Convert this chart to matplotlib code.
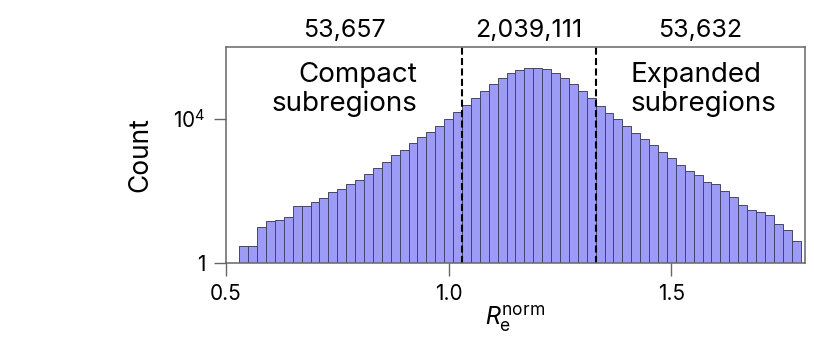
import numpy as np
import matplotlib
matplotlib.use('Agg')
import matplotlib.pyplot as plt
import matplotlib.transforms as mtransforms

plt.rcParams['font.family'] = ['Inter', 'DejaVu Sans']
plt.rcParams['mathtext.fontset'] = 'custom'
plt.rcParams['mathtext.rm'] = 'Inter'
plt.rcParams['mathtext.it'] = 'Roboto:italic'

# histogram of normalised effective radius, bins of 0.02 starting at 0.53
bin_start = 0.53
bin_width = 0.02
counts = [
    3, 3, 10, 15, 16, 19, 39, 39, 50, 62,
    93, 115, 155, 204, 295, 427, 640, 970, 1400, 2090,
    3160, 4400, 6460, 9900, 15500, 24000, 38900, 61700, 91200, 135000,
    186000, 229000, 263000, 263000, 245000, 186000, 141000, 91200, 61700, 38900,
    22900, 15100, 9800, 6460, 3980, 2820, 1860, 1200, 813, 525,
    363, 282, 174, 155, 102, 66, 42, 30, 26, 21,
    12, 8, 4,
]
cuts = [1.03, 1.33]
group_totals = ['53,657', '2,039,111', '53,632']
group_centers = [0.765, 1.18, 1.565]

left_edges = bin_start + bin_width * np.arange(len(counts))

fig = plt.figure(figsize=(8.14, 3.55), dpi=100)
ax = fig.add_axes([0.2776, 0.2592, 0.9889 - 0.2776, 0.8676 - 0.2592])

ax.bar(left_edges, counts, width=bin_width, align='edge',
       color='#9c9cf6', edgecolor='#45456a', linewidth=0.7)
ax.set_yscale('log')
ax.set_ylim(1, 1e6)
ax.set_xlim(0.5, 1.8)

for c in cuts:
    ax.axvline(c, color='black', lw=1.5, linestyle=(0, (3.4, 1.6)))

trans = mtransforms.blended_transform_factory(ax.transData, ax.transAxes)
for xc, txt in zip(group_centers, group_totals):
    ax.text(xc, 1.046, txt, transform=trans, ha='center', va='baseline', fontsize=18)

ax.text(0.93, 0.932, 'Compact\nsubregions', transform=trans, ha='right', va='top',
        fontsize=20, linespacing=1.15)
ax.text(1.408, 0.932, 'Expanded\nsubregions', transform=trans, ha='left', va='top',
        fontsize=20, linespacing=1.15)

ax.set_xticks([0.5, 1.0, 1.5])
ax.set_xticklabels(['0.5', '1.0', '1.5'])
ax.set_yticks([1, 1e4])
ax.set_yticklabels(['1', r'$10^4$'])
ax.yaxis.set_minor_locator(matplotlib.ticker.NullLocator())
ax.tick_params(axis='both', direction='out', length=9, width=1, color='#666666',
               labelsize=15, pad=6)

for s in ax.spines.values():
    s.set_color('#666666')
    s.set_linewidth(1.1)

ax.set_ylabel('Count', fontsize=19)
ax.yaxis.set_label_coords(-0.126, 0.5)
ax.set_xlabel(r'$R_{\mathrm{e}}^{\mathrm{norm}}$', fontsize=18)
ax.xaxis.set_label_coords(0.5, -0.185)

fig.savefig('out.png', dpi=100)
